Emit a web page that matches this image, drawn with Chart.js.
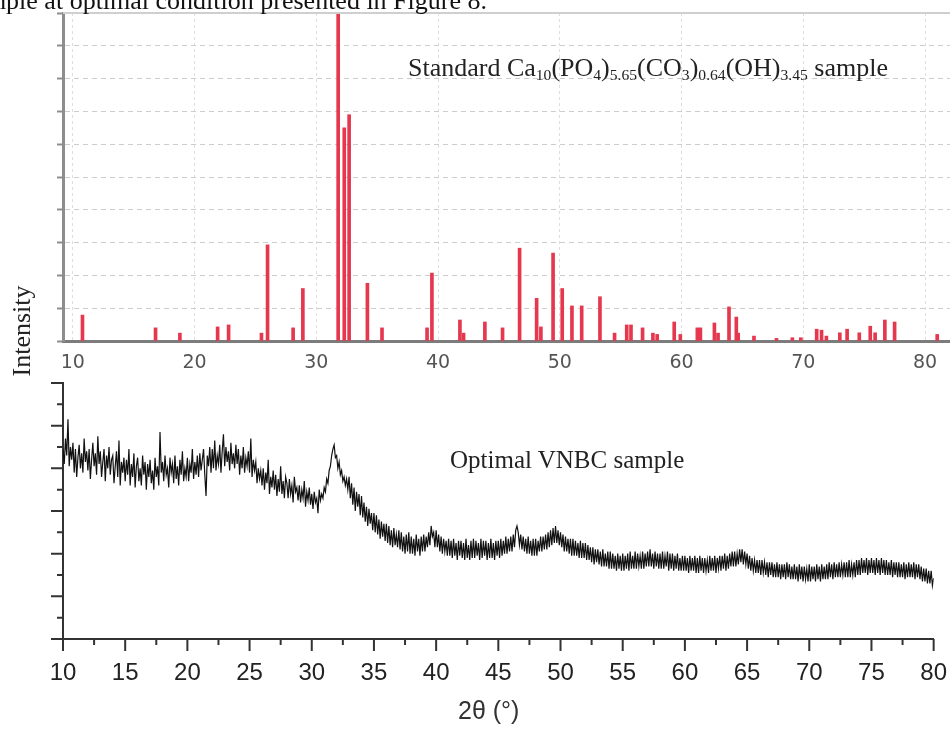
<!DOCTYPE html>
<html>
<head>
<meta charset="utf-8">
<title>XRD pattern</title>
<script src="https://cdn.jsdelivr.net/npm/chart.js@4.4.0/dist/chart.umd.min.js"></script>
<style>
  html, body { margin: 0; padding: 0; background: #fff; }
  #page { position: relative; width: 950px; height: 736px; overflow: hidden; }
  canvas { position: absolute; left: 0; }
  .txt { position: absolute; font-family: "Liberation Serif", "Times New Roman", serif; color: #222; white-space: nowrap; line-height: 1; }
  .txt sub { font-size: 60%; vertical-align: -0.28em; line-height: 0; }
</style>
</head>
<body>
<div id="page">
  <canvas id="ref" width="950" height="372" style="top:0"></canvas>
  <canvas id="scan" width="967" height="366" style="top:370px"></canvas>

  <div class="txt" style="top:-12px; left:-213px; width:700px; text-align:right; font-size:26px; color:#111;">sample at optimal condition presented in Figure 8.</div>
  <div class="txt" style="top:55px; left:408px; font-size:26px;">Standard Ca<sub>10</sub>(PO<sub>4</sub>)<sub>5.65</sub>(CO<sub>3</sub>)<sub>0.64</sub>(OH)<sub>3.45</sub> sample</div>
  <div class="txt" style="top:447px; left:450px; font-size:25px;">Optimal VNBC sample</div>
  <div class="txt" style="top:318px; left:-24px; width:92px; text-align:center; font-size:26px; transform:rotate(-90deg);">Intensity</div>
  <div class="txt" style="top:698px; left:458px; font-family:'Liberation Sans', Arial, sans-serif; font-size:25px; color:#333;">2θ (°)</div>
</div>

<script>
// reference stick pattern (top panel)
const peakPos = [10.8, 16.8, 18.8, 21.9, 22.8, 25.5, 26.0, 28.1, 28.9, 31.8, 32.3, 32.7, 34.2, 35.4,
  39.1, 39.5, 41.8, 42.1, 43.85, 45.3, 46.7, 48.1, 48.45, 49.45, 50.2, 51.0, 51.8, 53.3, 54.5,
  55.5, 55.85, 56.8, 57.65, 58.0, 59.4, 59.9, 61.3, 61.55, 62.7, 63.0, 63.9, 64.5, 64.65, 65.95,
  67.8, 69.1, 69.8, 71.1, 71.5, 71.9, 73.0, 73.6, 74.6, 75.5, 75.9, 76.7, 77.5, 81.0];
const peakInt = [0.79, 0.4, 0.24, 0.43, 0.49, 0.24, 2.93, 0.4, 1.6, 10.5, 6.5, 6.9, 1.76, 0.4,
  0.4, 2.07, 0.64, 0.24, 0.58, 0.4, 2.83, 1.3, 0.43, 2.68, 1.6, 1.07, 1.07, 1.35, 0.24,
  0.49, 0.49, 0.4, 0.24, 0.2, 0.58, 0.2, 0.4, 0.4, 0.55, 0.24, 1.04, 0.73, 0.24, 0.15,
  0.08, 0.1, 0.1, 0.36, 0.33, 0.15, 0.25, 0.36, 0.25, 0.45, 0.25, 0.64, 0.58, 0.2];
const refTicks = [10, 20, 30, 40, 50, 60, 70, 80];

// measured scan (bottom panel), 10° to 80° every 0.1°, one row per degree
const scanStart = 10;
const scanStep = 0.1;
const scanInt = [
  8.9, 8.2, 9.4, 8.6, 10.3, 8.1, 9.0, 8.4, 9.2, 7.8,  // 10
  8.9, 7.6, 8.5, 9.1, 8.0, 8.7, 7.8, 9.4, 8.3, 8.8,   // 11
  7.9, 8.9, 7.5, 8.4, 9.2, 8.1, 8.7, 7.7, 9.5, 8.2,   // 12
  8.8, 7.6, 8.3, 8.9, 7.4, 8.6, 8.0, 9.0, 7.7, 8.4,   // 13
  8.6, 7.3, 8.1, 8.8, 7.6, 9.3, 7.2, 8.3, 7.8, 8.5,   // 14
  7.4, 8.4, 7.7, 8.9, 7.2, 8.2, 7.6, 8.7, 7.1, 8.1,   // 15
  8.5, 7.4, 8.0, 7.2, 8.6, 7.7, 8.3, 7.0, 8.2, 7.6,   // 16
  8.4, 7.3, 7.9, 7.0, 8.5, 7.6, 8.1, 7.2, 9.7, 7.8,   // 17
  8.3, 7.4, 8.6, 7.7, 8.0, 7.1, 8.5, 7.8, 8.2, 7.3,   // 18
  8.6, 7.5, 8.1, 7.2, 8.4, 7.7, 8.8, 7.4, 8.0, 7.6,   // 19
  8.5, 7.4, 8.2, 7.8, 8.9, 7.5, 8.3, 7.7, 8.6, 7.6,   // 20
  8.7, 7.9, 8.4, 8.9, 7.7, 6.7, 8.6, 8.1, 9.0, 7.8,   // 21
  8.9, 8.0, 9.3, 7.9, 8.6, 8.2, 9.1, 7.8, 8.8, 9.6,   // 22
  8.1, 9.0, 8.3, 8.8, 7.9, 9.2, 8.2, 8.7, 8.0, 9.1,   // 23
  8.2, 8.9, 7.7, 8.6, 8.0, 9.0, 7.8, 8.5, 8.1, 8.8,   // 24
  7.8, 9.4, 7.6, 8.4, 7.9, 8.3, 7.3, 8.0, 7.5, 7.9,   // 25
  7.2, 8.0, 7.0, 7.8, 7.3, 8.4, 6.8, 7.6, 7.1, 7.9,   // 26
  7.0, 7.7, 6.7, 7.5, 6.9, 8.1, 6.8, 7.4, 6.6, 7.6,   // 27
  7.3, 6.6, 7.5, 6.8, 7.2, 6.4, 7.6, 6.9, 7.1, 6.5,   // 28
  7.2, 6.4, 7.0, 6.6, 7.4, 6.2, 6.9, 6.5, 7.1, 6.3,   // 29
  6.8, 6.1, 6.9, 6.4, 6.6, 5.9, 7.0, 6.5, 6.8, 6.6,   // 30
  7.1, 6.9, 7.5, 7.3, 7.9, 8.1, 8.6, 8.9, 9.1, 8.5,   // 31
  8.6, 8.0, 8.3, 7.7, 7.9, 7.4, 7.6, 7.2, 7.5, 7.0,   // 32
  7.6, 6.6, 7.3, 6.3, 7.1, 6.0, 6.9, 6.2, 6.8, 5.8,   // 33
  6.7, 5.7, 6.4, 5.5, 6.2, 5.3, 6.1, 5.4, 5.9, 5.1,   // 34
  5.9, 5.0, 5.8, 4.9, 5.6, 4.7, 5.5, 4.8, 5.4, 4.6,   // 35
  5.4, 4.5, 5.3, 4.4, 5.1, 4.3, 5.2, 4.4, 4.9, 4.3,   // 36
  5.1, 4.2, 5.0, 4.1, 4.8, 4.0, 4.9, 4.1, 5.0, 4.0,   // 37
  4.8, 4.0, 4.7, 3.9, 4.9, 4.1, 4.7, 3.9, 4.8, 4.1,   // 38
  4.9, 4.1, 4.8, 4.3, 5.0, 4.4, 5.3, 4.8, 5.0, 4.3,   // 39
  5.1, 4.3, 4.9, 4.1, 4.8, 4.0, 4.7, 4.1, 4.6, 3.9,   // 40
  4.7, 3.9, 4.6, 3.8, 4.7, 3.9, 4.5, 3.7, 4.6, 3.9,   // 41
  4.6, 3.8, 4.5, 3.7, 4.7, 3.8, 4.4, 3.7, 4.6, 3.8,   // 42
  4.7, 3.8, 4.6, 3.9, 4.5, 3.7, 4.7, 3.8, 4.6, 3.9,   // 43
  4.6, 3.7, 4.5, 3.8, 4.7, 3.8, 4.5, 3.7, 4.6, 3.9,   // 44
  4.6, 3.8, 4.7, 3.9, 4.6, 4.0, 4.8, 4.0, 4.7, 4.1,   // 45
  4.8, 4.1, 4.9, 4.3, 5.1, 5.3, 5.0, 4.4, 4.9, 4.2,   // 46
  4.8, 4.1, 4.7, 4.0, 4.8, 4.0, 4.6, 3.9, 4.7, 3.9,   // 47
  4.7, 3.9, 4.6, 4.1, 4.8, 4.1, 4.8, 4.2, 4.9, 4.2,   // 48
  5.0, 4.3, 5.1, 4.4, 5.2, 4.5, 5.3, 4.5, 5.1, 4.4,   // 49
  5.0, 4.3, 4.9, 4.1, 4.8, 4.1, 4.7, 4.0, 4.7, 3.9,   // 50
  4.7, 3.9, 4.6, 3.9, 4.5, 3.8, 4.6, 3.8, 4.5, 3.8,   // 51
  4.5, 3.7, 4.4, 3.7, 4.3, 3.6, 4.3, 3.5, 4.2, 3.6,   // 52
  4.2, 3.5, 4.1, 3.4, 4.2, 3.4, 4.0, 3.4, 4.1, 3.3,   // 53
  4.1, 3.3, 4.0, 3.3, 3.9, 3.2, 4.0, 3.3, 3.9, 3.2,   // 54
  4.0, 3.2, 3.9, 3.3, 4.0, 3.2, 4.1, 3.3, 3.9, 3.3,   // 55
  4.1, 3.3, 4.0, 3.4, 3.9, 3.3, 4.1, 3.3, 4.0, 3.4,   // 56
  4.1, 3.4, 4.2, 3.4, 4.0, 3.3, 4.1, 3.4, 4.0, 3.3,   // 57
  4.0, 3.3, 4.1, 3.3, 3.9, 3.4, 4.1, 3.2, 4.0, 3.3,   // 58
  4.0, 3.2, 3.9, 3.3, 4.0, 3.2, 3.8, 3.2, 3.9, 3.2,   // 59
  3.9, 3.2, 3.8, 3.1, 3.9, 3.2, 3.8, 3.2, 3.9, 3.1,   // 60
  3.8, 3.1, 3.9, 3.2, 3.8, 3.1, 3.8, 3.2, 3.7, 3.1,   // 61
  3.9, 3.2, 3.8, 3.2, 3.9, 3.1, 3.8, 3.3, 3.9, 3.2,   // 62
  3.9, 3.3, 4.0, 3.2, 3.9, 3.3, 4.0, 3.4, 4.1, 3.4,   // 63
  4.1, 3.4, 4.0, 3.5, 4.2, 3.6, 4.2, 3.5, 4.1, 3.5,   // 64
  4.0, 3.3, 3.9, 3.2, 3.8, 3.2, 3.7, 3.1, 3.7, 3.1,   // 65
  3.7, 3.0, 3.7, 3.1, 3.6, 3.0, 3.6, 2.9, 3.6, 3.0,   // 66
  3.6, 2.9, 3.5, 2.9, 3.6, 2.9, 3.5, 2.8, 3.5, 2.9,   // 67
  3.5, 2.8, 3.6, 2.9, 3.5, 2.8, 3.4, 2.8, 3.5, 2.8,   // 68
  3.4, 2.7, 3.5, 2.8, 3.4, 2.7, 3.4, 2.8, 3.3, 2.7,   // 69
  3.5, 2.7, 3.4, 2.8, 3.4, 2.7, 3.5, 2.8, 3.4, 2.7,   // 70
  3.5, 2.8, 3.4, 2.8, 3.5, 2.8, 3.6, 2.9, 3.5, 2.8,   // 71
  3.6, 2.9, 3.5, 2.9, 3.6, 2.9, 3.5, 3.0, 3.6, 2.9,   // 72
  3.6, 2.9, 3.7, 2.9, 3.5, 3.0, 3.6, 2.9, 3.7, 3.0,   // 73
  3.7, 3.0, 3.8, 3.1, 3.7, 3.1, 3.8, 3.0, 3.7, 3.1,   // 74
  3.8, 3.1, 3.7, 3.0, 3.8, 3.1, 3.7, 3.0, 3.8, 3.1,   // 75
  3.7, 3.0, 3.7, 3.0, 3.6, 3.0, 3.7, 2.9, 3.6, 3.0,   // 76
  3.6, 2.9, 3.6, 2.9, 3.5, 2.9, 3.6, 2.8, 3.5, 2.9,   // 77
  3.6, 2.9, 3.5, 2.9, 3.6, 2.8, 3.5, 2.9, 3.5, 2.8,   // 78
  3.4, 2.7, 3.3, 2.7, 3.3, 2.6, 3.2, 2.6, 3.2, 2.5,   // 79
  2.85                                                // 80
];

// top frame line of the reference panel
const frameTop = {
  id: 'frameTop',
  afterDraw(chart) {
    const { ctx, chartArea: a } = chart;
    ctx.save();
    ctx.strokeStyle = '#cfcfcf';
    ctx.lineWidth = 2;
    ctx.beginPath();
    ctx.moveTo(a.left, a.top);
    ctx.lineTo(a.right, a.top);
    ctx.stroke();
    ctx.restore();
  }
};

// major / minor tick marks of the scan panel
const scanTicks = {
  id: 'scanTicks',
  afterDraw(chart) {
    const { ctx, chartArea: a, scales: { x, y } } = chart;
    ctx.save();
    ctx.strokeStyle = '#333';
    ctx.lineWidth = 2;
    ctx.beginPath();
    for (let v = 10; v <= 80; v += 2.5) {
      const px = x.getPixelForValue(v);
      const len = v % 5 === 0 ? 12 : 6;
      ctx.moveTo(px, a.bottom);
      ctx.lineTo(px, a.bottom + len);
    }
    for (let v = 0; v <= 12; v++) {
      const py = y.getPixelForValue(v);
      const len = v % 2 === 0 ? 12 : 6;
      ctx.moveTo(a.left - len, py);
      ctx.lineTo(a.left, py);
    }
    ctx.stroke();
    ctx.restore();
  }
};

new Chart(document.getElementById('ref'), {
  type: 'bar',
  data: {
    datasets: [{
      data: peakPos.map((p, i) => ({ x: p, y: peakInt[i] })),
      backgroundColor: '#e5384f',
      barThickness: 3
    }]
  },
  options: {
    responsive: false,
    animation: false,
    layout: { padding: { top: 13, left: 0, right: 0, bottom: 0 } },
    plugins: { legend: { display: false }, tooltip: { enabled: false } },
    scales: {
      x: {
        type: 'linear',
        offset: false,
        min: 9.2,
        max: 82.05,
        afterBuildTicks: scale => { scale.ticks = refTicks.map(v => ({ value: v })); },
        afterFit: scale => { scale.height = 31; },
        border: { color: '#7c7c7c', width: 3, dash: [3, 3] },
        grid: { color: '#dedede', drawTicks: false, offset: false },
        ticks: { color: '#555', padding: 11, font: { family: 'DejaVu Sans', size: 19 } }
      },
      y: {
        min: 0,
        max: 10,
        afterFit: scale => { scale.width = 63; },
        border: { color: '#8d8d8d', width: 3, dash: [5, 4] },
        grid: { color: '#cdcdcd', tickColor: '#8d8d8d', tickLength: 6, tickWidth: 2 },
        ticks: { display: false, stepSize: 1 }
      }
    }
  },
  plugins: [frameTop]
});

new Chart(document.getElementById('scan'), {
  type: 'line',
  data: {
    datasets: [{
      data: scanInt.map((v, i) => ({ x: scanStart + i * scanStep, y: v })),
      borderColor: '#111',
      borderWidth: 1.2,
      pointRadius: 0,
      tension: 0
    }]
  },
  options: {
    responsive: false,
    animation: false,
    layout: { padding: { top: 13, left: 0, right: 0, bottom: 0 } },
    plugins: { legend: { display: false }, tooltip: { enabled: false } },
    scales: {
      x: {
        type: 'linear',
        min: 10,
        max: 80,
        afterFit: scale => { scale.height = 97; },
        border: { color: '#333', width: 2 },
        grid: { display: false, drawTicks: false },
        ticks: { stepSize: 5, color: '#222', padding: 20, font: { family: 'Liberation Sans', size: 24 } }
      },
      y: {
        min: 0,
        max: 12,
        afterFit: scale => { scale.width = 63; },
        border: { color: '#333', width: 2 },
        grid: { display: false, drawTicks: false },
        ticks: { display: false, stepSize: 1 }
      }
    }
  },
  plugins: [scanTicks]
});
</script>
</body>
</html>
